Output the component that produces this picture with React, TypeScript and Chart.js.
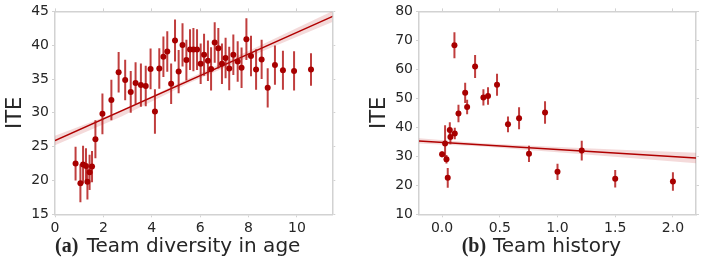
import React, { useEffect, useRef } from 'react';
import { Chart, registerables } from 'chart.js';

Chart.register(...registerables);

// ---- (a) Team diversity in age ----
const ageX = [0.85, 1.05, 1.16, 1.28, 1.34, 1.43, 1.53, 1.67, 1.96, 2.33, 2.63, 2.9, 3.13, 3.33, 3.55, 3.75, 3.95, 4.13, 4.31, 4.48, 4.64, 4.8, 4.96, 5.11, 5.27, 5.43, 5.58, 5.72, 5.87, 6.02, 6.16, 6.32, 6.45, 6.6, 6.75, 6.9, 7.05, 7.2, 7.37, 7.55, 7.71, 7.91, 8.1, 8.31, 8.54, 8.79, 9.09, 9.42, 9.88, 10.58];
const ageY = [22.5, 19.6, 22.35, 22.15, 19.8, 21.2, 22.05, 26.1, 29.85, 31.9, 36.0, 34.85, 33.1, 34.4, 34.1, 33.97, 36.5, 30.2, 36.55, 38.3, 39.06, 34.3, 40.7, 36.1, 40.04, 37.8, 39.35, 39.35, 39.35, 37.25, 38.6, 37.7, 36.5, 40.4, 39.55, 37.25, 38.1, 36.56, 38.6, 37.6, 36.66, 40.9, 38.4, 36.4, 37.9, 33.7, 37.06, 36.3, 36.2, 36.4];
const ageErr = [2.5, 2.8, 2.8, 2.6, 2.6, 2.6, 2.3, 2.8, 3.0, 3.0, 3.0, 3.0, 3.1, 3.1, 3.2, 3.0, 3.0, 3.3, 3.0, 3.0, 3.0, 3.0, 3.1, 3.2, 3.2, 3.0, 3.0, 3.2, 3.0, 3.0, 3.1, 3.0, 3.2, 3.0, 3.0, 3.0, 3.0, 3.2, 3.0, 3.0, 3.0, 3.1, 3.0, 3.0, 2.9, 2.9, 2.9, 2.9, 2.9, 2.4];
const ageFitX = [0, 11.5];
const ageFitY = [25.9, 44.3];
const ageBandX = [0, 2.75, 5.5, 8.5, 11.5];
const ageBandLo = [25.2, 29.45, 34.35, 39.0, 43.5];
const ageBandHi = [26.6, 30.35, 35.05, 40.0, 45.1];
const ageXTicks = [0, 2, 4, 6, 8, 10];
const ageYTicks = [15, 20, 25, 30, 35, 40, 45];

// ---- (b) Team history ----
const histX = [0.0, 0.026, 0.038, 0.049, 0.067, 0.072, 0.107, 0.11, 0.142, 0.2, 0.217, 0.286, 0.358, 0.398, 0.476, 0.571, 0.667, 0.753, 0.892, 1.0, 1.21, 1.5, 2.0];
const histY = [30.7, 34.4, 29.0, 22.6, 39.1, 36.7, 68.3, 37.9, 44.8, 51.9, 47.0, 61.0, 50.3, 50.8, 54.7, 41.05, 43.1, 30.85, 45.1, 24.65, 32.0, 22.25, 21.35];
const histErr = [1.0, 6.3, 1.5, 3.4, 2.7, 2.5, 4.5, 2.0, 3.0, 3.5, 2.5, 4.0, 2.8, 3.0, 3.8, 2.7, 3.8, 2.8, 3.9, 2.8, 3.4, 3.0, 3.2];
const histFitX = [-0.2, 2.2];
const histFitY = [35.3, 29.4];
const histBandX = [-0.2, 0.35, 1.0, 1.6, 2.2];
const histBandLo = [34.4, 33.4, 31.4, 29.5, 27.6];
const histBandHi = [36.2, 34.5, 33.2, 32.2, 31.2];
const histXTicks = [0, 0.5, 1.0, 1.5, 2.0];
const histYTicks = [10, 20, 30, 40, 50, 60, 70, 80];

const TEXT = '#262626';
const SPINE = '#d2d2d2';
const DOT = '#a80000';
const BAR = 'rgba(178,20,20,0.82)';
const LINE = '#b00000';
const BAND = 'rgba(200,70,70,0.2)';
const FONT = 'DejaVu Sans';

const errorBarPlugin = {
  id: 'errorBars',
  afterDatasetDraw(chart: any, args: any) {
    if (args.index !== 1) return;
    const pts = chart.data.datasets[0];
    const err: number[] = pts.err;
    const xs = chart.scales.x;
    const ys = chart.scales.y;
    const ctx = chart.ctx;
    ctx.save();
    const a = chart.chartArea;
    ctx.beginPath();
    ctx.rect(a.left, a.top, a.right - a.left, a.bottom - a.top);
    ctx.clip();
    ctx.strokeStyle = BAR;
    ctx.lineWidth = 2;
    pts.data.forEach((p: any, i: number) => {
      const px = xs.getPixelForValue(p.x);
      ctx.beginPath();
      ctx.moveTo(px, ys.getPixelForValue(p.y - err[i]));
      ctx.lineTo(px, ys.getPixelForValue(p.y + err[i]));
      ctx.stroke();
    });
    ctx.restore();
  },
};

type Cfg = {
  xs: number[]; ys: number[]; err: number[];
  fitX: number[]; fitY: number[];
  bandX: number[]; bandLo: number[]; bandHi: number[];
  xMin: number; xMax: number; yMin: number; yMax: number;
  xTicks: number[]; yTicks: number[];
  xFmt: (v: number) => string;
  left: number; right: number; top: number; bottom: number;
  titlePad: number;
};

function makeConfig(c: Cfg, h: number): any {
  const tickFont = { family: FONT, size: 14 };
  const grid = { display: true, drawOnChartArea: false, drawTicks: true, tickLength: 3, color: SPINE, lineWidth: 1 };
  const border = { display: true, color: SPINE, width: 1.5 };
  const xTickSet = (s: any) => { s.ticks = c.xTicks.map((v) => ({ value: v })); };
  const yTickSet = (s: any) => { s.ticks = c.yTicks.map((v) => ({ value: v })); };
  return {
    type: 'scatter',
    data: {
      datasets: [
        {
          type: 'scatter',
          data: c.xs.map((x, i) => ({ x, y: c.ys[i] })),
          err: c.err,
          backgroundColor: DOT,
          borderColor: DOT,
          pointRadius: 3,
          pointBorderWidth: 0,
        },
        {
          type: 'line',
          data: c.fitX.map((x, i) => ({ x, y: c.fitY[i] })),
          borderColor: LINE,
          borderWidth: 1.5,
          pointRadius: 0,
          fill: false,
        },
        {
          type: 'line',
          data: c.bandX.map((x, i) => ({ x, y: c.bandHi[i] })),
          borderWidth: 0,
          borderColor: 'rgba(0,0,0,0)',
          backgroundColor: BAND,
          pointRadius: 0,
          fill: '+1',
        },
        {
          type: 'line',
          data: c.bandX.map((x, i) => ({ x, y: c.bandLo[i] })),
          borderWidth: 0,
          borderColor: 'rgba(0,0,0,0)',
          pointRadius: 0,
          fill: false,
        },
      ],
    },
    options: {
      animation: false,
      responsive: false,
      events: [],
      layout: { padding: 0 },
      plugins: { legend: { display: false }, tooltip: { enabled: false } },
      scales: {
        x: {
          type: 'linear', position: 'bottom', min: c.xMin, max: c.xMax,
          afterBuildTicks: xTickSet,
          ticks: { font: tickFont, color: TEXT, padding: 3, maxRotation: 0, autoSkip: false, callback: (v: number) => c.xFmt(v) },
          grid, border,
          afterFit: (s: any) => { s.height = h - c.bottom; },
        },
        x2: {
          type: 'linear', position: 'top', min: c.xMin, max: c.xMax,
          afterBuildTicks: xTickSet,
          ticks: { display: false },
          grid, border,
          afterFit: (s: any) => { s.height = c.top; },
        },
        y: {
          type: 'linear', position: 'left', min: c.yMin, max: c.yMax,
          afterBuildTicks: yTickSet,
          ticks: { font: tickFont, color: TEXT, padding: 3, autoSkip: false },
          title: { display: true, text: 'ITE', color: TEXT, font: { family: FONT, size: 21 }, padding: { top: c.titlePad, bottom: 0 } },
          grid, border,
          afterFit: (s: any) => { s.width = c.left; },
        },
        y2: {
          type: 'linear', position: 'right', min: c.yMin, max: c.yMax,
          afterBuildTicks: yTickSet,
          ticks: { display: false },
          grid, border,
          afterFit: (s: any) => { s.width = c.right; },
        },
      },
    },
    plugins: [errorBarPlugin],
  };
}

const W = 353;
const H = 236;

function Panel({ cfg }: { cfg: Cfg }) {
  const ref = useRef<HTMLCanvasElement>(null);
  useEffect(() => {
    if (!ref.current) return;
    const chart = new Chart(ref.current, makeConfig(cfg, H));
    return () => chart.destroy();
  }, []);
  return <canvas ref={ref} width={W} height={H} style={{ display: 'block', width: W, height: H }} />;
}

const ageCfg: Cfg = {
  xs: ageX, ys: ageY, err: ageErr,
  fitX: ageFitX, fitY: ageFitY,
  bandX: ageBandX, bandLo: ageBandLo, bandHi: ageBandHi,
  xMin: 0, xMax: 11.46, yMin: 15, yMax: 45,
  xTicks: ageXTicks, yTicks: ageYTicks,
  xFmt: (v) => String(v),
  left: 55, right: W - 332.3, top: 10.3, bottom: 214.3,
  titlePad: 3,
};

const histCfg: Cfg = {
  xs: histX, ys: histY, err: histErr,
  fitX: histFitX, fitY: histFitY,
  bandX: histBandX, bandLo: histBandLo, bandHi: histBandHi,
  xMin: -0.2, xMax: 2.2, yMin: 10, yMax: 80,
  xTicks: histXTicks, yTicks: histYTicks,
  xFmt: (v) => v.toFixed(1),
  left: 66, right: W - 343, top: 10.7, bottom: 214.3,
  titlePad: 14.3,
};

const capBase: React.CSSProperties = {
  position: 'absolute', top: 235.4, fontSize: 20, lineHeight: '20px', color: TEXT, whiteSpace: 'nowrap',
};

export default function App() {
  return (
    <div style={{ position: 'absolute', left: 0, top: 0, width: 706, height: 261, background: '#fff', overflow: 'hidden' }}>
      <div style={{ position: 'absolute', left: 0, top: 0 }}><Panel cfg={ageCfg} /></div>
      <div style={{ position: 'absolute', left: 353, top: 0 }}><Panel cfg={histCfg} /></div>
      <span style={{ ...capBase, left: 55, fontFamily: '"Liberation Serif", serif', fontWeight: 'bold' }}>(a)</span>
      <span style={{ ...capBase, left: 86.7, fontFamily: FONT }}>Team diversity in age</span>
      <span style={{ ...capBase, left: 461.7, fontFamily: '"Liberation Serif", serif', fontWeight: 'bold' }}>(b)</span>
      <span style={{ ...capBase, left: 493, fontFamily: FONT }}>Team history</span>
    </div>
  );
}
